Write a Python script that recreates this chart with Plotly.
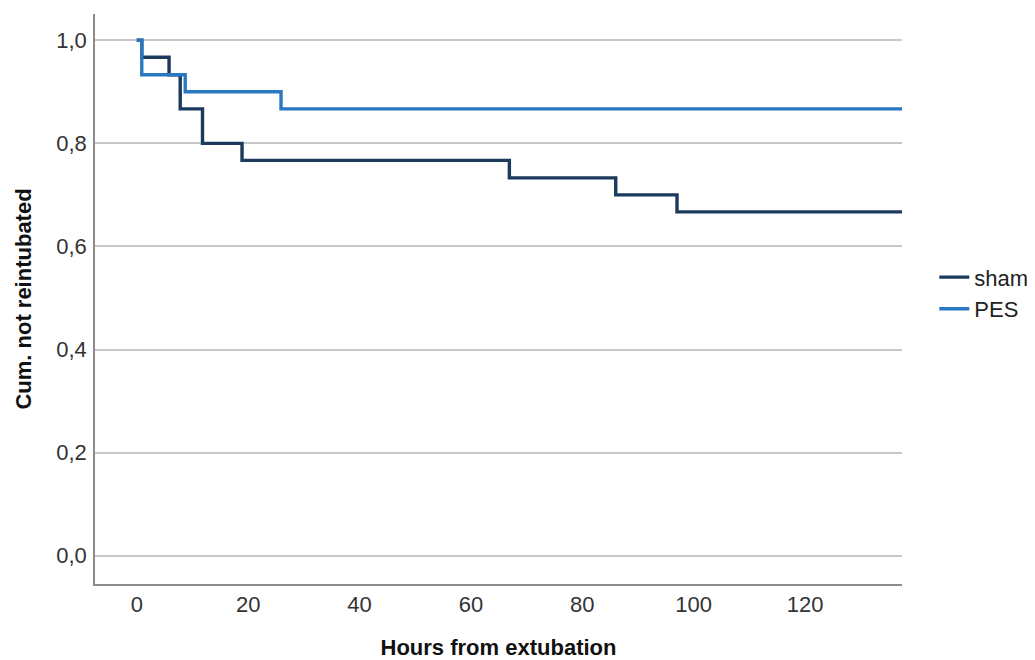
import plotly.graph_objects as go

# Kaplan-Meier step data (hours from extubation, cumulative proportion not reintubated)
sham_hours = [0, 0.9, 5.8, 7.8, 11.8, 18.9, 66.9, 86.0, 97.0, 137.4]
sham_surv = [1.0, 0.967, 0.933, 0.867, 0.800, 0.767, 0.733, 0.700, 0.667, 0.667]

pes_hours = [0, 0.9, 8.7, 25.9, 137.4]
pes_surv = [1.0, 0.933, 0.900, 0.867, 0.867]

x_ticks = [0, 20, 40, 60, 80, 100, 120]
y_ticks = [0.0, 0.2, 0.4, 0.6, 0.8, 1.0]
y_tick_labels = ["0,0", "0,2", "0,4", "0,6", "0,8", "1,0"]

SHAM_COLOR = "#1b3a5c"
PES_COLOR = "#2b78c2"
FONT = "Liberation Sans, Arial, sans-serif"
FS = 22

fig = go.Figure()
fig.add_trace(go.Scatter(x=sham_hours, y=sham_surv, mode="lines", name="sham",
                         line=dict(shape="hv", color=SHAM_COLOR, width=3.4)))
fig.add_trace(go.Scatter(x=pes_hours, y=pes_surv, mode="lines", name="PES",
                         line=dict(shape="hv", color=PES_COLOR, width=3.4)))

# page body has an 8px margin, so the figure is sized/positioned to compensate
fig.update_layout(
    width=1027, height=652,
    margin=dict(l=87, r=133, t=6, b=76, autoexpand=False),
    paper_bgcolor="white", plot_bgcolor="white",
    font=dict(family=FONT, size=FS, color="#222222"),
    showlegend=True,
    legend=dict(x=1.04, y=0.51, xanchor="left", yanchor="middle",
                font=dict(size=FS, color="#222222"), bgcolor="rgba(0,0,0,0)",
                itemwidth=30, tracegroupgap=0),
    xaxis=dict(range=[-7.5, 137.4], tickvals=x_ticks, showgrid=False, zeroline=False,
               showline=True, linecolor="#8c8c8c", linewidth=1.5, ticks="",
               tickfont=dict(size=FS, color="#333333"),
               title=dict(text="<b>Hours from extubation</b>", font=dict(size=FS, color="#111111"),
                          standoff=24)),
    yaxis=dict(range=[-0.055, 1.051], tickvals=y_ticks, ticktext=y_tick_labels,
               showgrid=True, gridcolor="#c8c8c8", gridwidth=1.5, zeroline=False,
               showline=True, linecolor="#8c8c8c", linewidth=1.5, ticks="",
               ticklabelstandoff=2,
               tickfont=dict(size=FS, color="#333333"),
               title=dict(text="<b>Cum. not reintubated</b>", font=dict(size=FS, color="#111111"),
                          standoff=19)),
)

fig.write_html("out.html")
